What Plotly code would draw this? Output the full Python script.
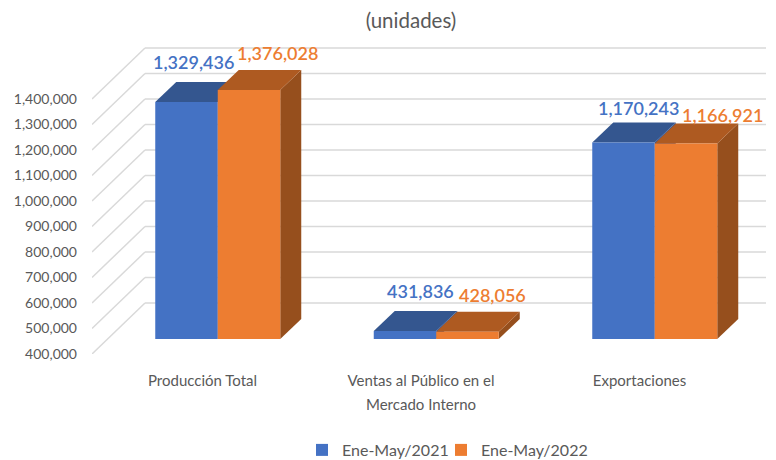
import plotly.graph_objects as go

# ---- data ----
categories = ["Producción Total", "Ventas al Público en el", "Exportaciones"]
category_second_line = ["", "Mercado Interno", ""]
series_names = ["Ene-May/2021", "Ene-May/2022"]
values_2021 = [1329436, 431836, 1170243]
values_2022 = [1376028, 428056, 1166921]
y_ticks = [400000, 500000, 600000, 700000, 800000, 900000, 1000000,
           1100000, 1200000, 1300000, 1400000]
title_text = "(unidades)"

# ---- styling / geometry ----
BLUE, ORANGE = "#4472C4", "#ED7D31"
BLUE_TOP, ORANGE_TOP = "#34568F", "#AE5A21"
BLUE_SIDE, ORANGE_SIDE = "#2F5597", "#964F1D"
GRID = "#D9D9D9"
TEXT = "#595959"
FONT = "Lato"

W, H = 776, 460
L, R, T, B = 92, 10, 30, 106
PX_PER_CAT = 218.5
PX_PER_UNIT = 0.000255
Y0 = y_ticks[0]
X_OF_PX = lambda px: px / PX_PER_CAT          # px length -> x units
Y_OF_PX = lambda px: px / PX_PER_UNIT         # px length -> y units

x_min = -(202.5 - L) / PX_PER_CAT
x_max = x_min + (W - L - R) / PX_PER_CAT
y_max = Y0 + Y_OF_PX(H - B - T)

BAR_W = X_OF_PX(62.5)
SHIFT_X = X_OF_PX(-16)       # blue bar centre vs. tick
GAP_X = BAR_W
BASE = Y0 + Y_OF_PX(15)
DX, DY = X_OF_PX(21), Y_OF_PX(20)     # bar depth
WALL_DX, WALL_DY = X_OF_PX(53), Y_OF_PX(51)

shapes = []


def poly(points, color):
    path = "M" + "L".join(f"{x},{y}" for x, y in points) + "Z"
    shapes.append(dict(type="path", path=path, xref="x", yref="y", layer="below",
                       fillcolor=color, line=dict(width=0)))


# floor-and-wall gridlines
for v in y_ticks:
    shapes.append(dict(type="line", xref="x", yref="y", layer="below",
                       x0=x_min, y0=v, x1=x_min + WALL_DX, y1=v + WALL_DY,
                       line=dict(color=GRID, width=1.5)))
    shapes.append(dict(type="line", xref="x", yref="y", layer="below",
                       x0=x_min + WALL_DX, y0=v + WALL_DY, x1=x_max, y1=v + WALL_DY,
                       line=dict(color=GRID, width=1.5)))

# 3D side and top faces behind the front faces
for name_vals, offset, top, side in [(values_2021, SHIFT_X, BLUE_TOP, BLUE_SIDE),
                                     (values_2022, SHIFT_X + GAP_X, ORANGE_TOP, ORANGE_SIDE)]:
    for i, v in enumerate(name_vals):
        xl = i + offset - BAR_W / 2
        xr = i + offset + BAR_W / 2
        ytop = v + (BASE - Y0)
        poly([(xr, BASE), (xr + DX, BASE + DY), (xr + DX, ytop + DY), (xr, ytop)], side)
        poly([(xl, ytop), (xl + DX, ytop + DY), (xr + DX, ytop + DY), (xr, ytop)], top)

fig = go.Figure()
for name, vals, offset, color, legend_id in [
        (series_names[0], values_2021, SHIFT_X, BLUE, "legend"),
        (series_names[1], values_2022, SHIFT_X + GAP_X, ORANGE, "legend2")]:
    fig.add_trace(go.Bar(
        name=name,
        x=[i + offset for i in range(len(categories))],
        y=[v - Y0 for v in vals],
        base=BASE,
        width=BAR_W,
        marker=dict(color=color, line=dict(width=0)),
        hoverinfo="skip",
        showlegend=True,
        legend=legend_id,
    ))

# data labels, anchored on the bar's front-top corner centre
label_shift_2021 = [(6.5, 40), (15.5, 40), (14.5, 35)]
label_shift_2022 = [(28, 37), (24.5, 37), (36, 28)]
annotations = []
for vals, offset, color, shifts in [(values_2021, SHIFT_X, BLUE, label_shift_2021),
                                    (values_2022, SHIFT_X + GAP_X, ORANGE, label_shift_2022)]:
    for i, v in enumerate(vals):
        annotations.append(dict(
            x=i + offset, y=v + (BASE - Y0), xref="x", yref="y",
            text=f"{v:,}", showarrow=False, xshift=shifts[i][0], yshift=shifts[i][1],
            xanchor="center", yanchor="middle",
            font=dict(family=FONT, size=18, color=color, weight=600),
        ))

for i, line in enumerate(category_second_line):
    if line:
        annotations.append(dict(
            x=i, y=(354 - 404) / (H - B - T), xref="x", yref="paper", text=line,
            showarrow=False, xanchor="center", yanchor="middle",
            font=dict(family=FONT, size=15, color=TEXT),
        ))

legend_common = dict(orientation="h", xref="container", yref="container",
                     xanchor="left", y=1 - 450 / H, yanchor="middle",
                     bgcolor="rgba(0,0,0,0)",
                     font=dict(family=FONT, size=16, color=TEXT), itemclick=False)

fig.update_layout(
    width=W, height=H, autosize=False,
    margin=dict(l=L, r=R, t=T, b=B, pad=0),
    paper_bgcolor="white", plot_bgcolor="white",
    barmode="overlay",
    shapes=shapes,
    annotations=annotations,
    font=dict(family=FONT, color=TEXT, size=15),
    title=dict(text=title_text, x=411 / W, xanchor="center", y=1 - 21 / H, yanchor="middle",
               font=dict(family=FONT, size=20.5, color=TEXT)),
    xaxis=dict(range=[x_min, x_max], tickmode="array", tickvals=list(range(len(categories))),
               ticktext=categories, showgrid=False, zeroline=False, showline=False, ticks="",
               ticklabelstandoff=16, tickangle=0, tickfont=dict(family=FONT, size=15, color=TEXT)),
    yaxis=dict(range=[Y0, y_max], tickmode="array", tickvals=y_ticks,
               ticktext=[f"{v:,}" for v in y_ticks], showgrid=False, zeroline=False,
               showline=False, ticks="", ticklabelstandoff=14,
               tickfont=dict(family=FONT, size=14, color=TEXT)),
    legend=dict(x=302 / W, **legend_common),
    legend2=dict(x=441 / W, **legend_common),
)

fig.write_html("out.html", config=dict(displayModeBar=False),
               post_script="document.body.style.margin='0';")
